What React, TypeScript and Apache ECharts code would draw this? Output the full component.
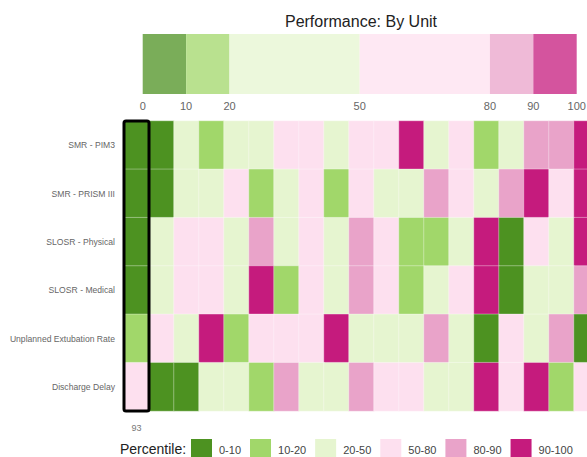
import React, { useEffect, useRef } from "react";
import * as echarts from "echarts";

const chartTitle = "Performance: By Unit";
const legendTitle = "Percentile:";

const bandEdges = [0, 10, 20, 50, 80, 90, 100];
const bandLabels = ["0-10", "10-20", "20-50", "50-80", "80-90", "90-100"];
const bandColors = ["#4d9221", "#a1d76a", "#e6f5d0", "#fde0ef", "#e9a3c9", "#c51b7d"];
const scaleTicks = [0, 10, 20, 50, 80, 90, 100];

const metrics = [
  "SMR - PIM3",
  "SMR - PRISM III",
  "SLOSR - Physical",
  "SLOSR - Medical",
  "Unplanned Extubation Rate",
  "Discharge Delay",
];

const units = [
  "93", "U02", "U03", "U04", "U05", "U06", "U07", "U08", "U09", "U10",
  "U11", "U12", "U13", "U14", "U15", "U16", "U17", "U18", "U19",
];
const highlightedUnit = "93";

const smrPim3 = [4, 7, 35, 14, 42, 28, 63, 58, 31, 71, 55, 96, 38, 66, 17, 44, 84, 87, 93];
const smrPrism3 = [6, 3, 26, 39, 61, 12, 33, 74, 16, 57, 45, 29, 82, 68, 36, 86, 97, 52, 94];
const slosrPhysical = [5, 41, 59, 67, 37, 83, 24, 72, 47, 88, 64, 13, 18, 27, 92, 8, 76, 34, 98];
const slosrMedical = [2, 32, 69, 53, 43, 95, 15, 62, 25, 81, 77, 19, 46, 56, 91, 4, 22, 40, 85];
const unplannedExtubation = [18, 54, 36, 97, 11, 65, 73, 60, 93, 48, 30, 23, 87, 39, 7, 70, 44, 83, 3];
const dischargeDelay = [66, 9, 6, 28, 37, 14, 89, 42, 21, 84, 57, 78, 33, 46, 99, 62, 95, 12, 75];

const metricValues = [smrPim3, smrPrism3, slosrPhysical, slosrMedical, unplannedExtubation, dischargeDelay];

function fade(hex: string, a: number) {
  const n = parseInt(hex.slice(1), 16);
  const r = (n >> 16) & 255, g = (n >> 8) & 255, b = n & 255;
  const m = (c: number) => Math.round(c * a + 255 * (1 - a));
  return `rgb(${m(r)},${m(g)},${m(b)})`;
}

export default function App() {
  const ref = useRef<HTMLDivElement>(null);

  useEffect(() => {
    if (!ref.current) return;
    const chart = echarts.init(ref.current, null, { renderer: "svg" });
    const font = "'Liberation Sans', Arial, Helvetica, sans-serif";

    const heatData: number[][] = [];
    metricValues.forEach((row, y) => row.forEach((v, x) => heatData.push([x, y, v])));

    const bandSeries = bandLabels.map((lab, i) => ({
      type: "bar",
      name: lab,
      stack: "scale",
      xAxisIndex: 0,
      yAxisIndex: 0,
      barWidth: "100%",
      silent: true,
      itemStyle: { color: fade(bandColors[i], 0.75) },
      data: [bandEdges[i + 1] - bandEdges[i]],
    }));

    const option: any = {
      animation: false,
      textStyle: { fontFamily: font },
      title: [
        {
          text: chartTitle,
          left: 356,
          top: 8,
          textAlign: "center",
          textStyle: { fontSize: 16, fontWeight: "normal", color: "#222", fontFamily: font },
        },
        {
          text: legendTitle,
          left: 120,
          top: 442,
          padding: 0,
          textStyle: { fontSize: 14, fontWeight: "normal", color: "#222", fontFamily: font },
        },
      ],
      grid: [
        { left: 142.7, top: 34, width: 434, height: 60, containLabel: false, outerBoundsMode: "none" },
        { left: 124, top: 121, width: 475, height: 290, containLabel: false, outerBoundsMode: "none" },
      ],
      xAxis: [
        {
          type: "value",
          gridIndex: 0,
          min: 0,
          max: 100,
          interval: 10,
          axisLine: { show: false },
          axisTick: { show: false },
          splitLine: { show: false },
          axisLabel: {
            margin: 6,
            fontSize: 11,
            color: "#666",
            formatter: (v: number) => (scaleTicks.includes(v) ? String(v) : ""),
          },
        },
        {
          type: "category",
          gridIndex: 1,
          data: units,
          axisLine: { show: false },
          axisTick: { show: false },
          splitLine: { show: false },
          axisLabel: {
            margin: 12,
            fontSize: 9,
            color: "#777",
            interval: 0,
            formatter: (v: string) => (v === highlightedUnit ? v : ""),
          },
        },
      ],
      yAxis: [
        { type: "category", gridIndex: 0, data: ["scale"], show: false },
        {
          type: "category",
          gridIndex: 1,
          data: metrics,
          inverse: true,
          axisLine: { show: false },
          axisTick: { show: false },
          splitLine: { show: false },
          axisLabel: { margin: 9, fontSize: 8.6, color: "#666" },
        },
      ],
      visualMap: {
        type: "piecewise",
        seriesIndex: bandLabels.length,
        orient: "horizontal",
        left: 191,
        top: 439,
        padding: 0,
        itemWidth: 21,
        itemHeight: 21,
        itemGap: 9,
        textGap: 7,
        itemSymbol: "rect",
        selectedMode: false,
        textStyle: { fontSize: 11, color: "#444", fontFamily: font },
        pieces: bandLabels.map((lab, i) => ({
          min: bandEdges[i],
          max: bandEdges[i + 1],
          label: lab,
          color: bandColors[i],
        })),
      },
      series: [
        ...bandSeries,
        {
          type: "heatmap",
          xAxisIndex: 1,
          yAxisIndex: 1,
          data: heatData,
          itemStyle: { borderColor: "rgba(255,255,255,0.35)", borderWidth: 1 },
          label: { show: false },
          emphasis: { disabled: true },
        },
        {
          type: "custom",
          xAxisIndex: 1,
          yAxisIndex: 1,
          silent: true,
          z: 10,
          data: [[units.indexOf(highlightedUnit)]],
          renderItem: (params: any, api: any) => {
            const col = api.value(0);
            const top = api.coord([col, 0]);
            const bottom = api.coord([col, metrics.length - 1]);
            const size = api.size([1, 1]);
            return {
              type: "rect",
              shape: {
                x: top[0] - size[0] / 2,
                y: top[1] - size[1] / 2,
                width: size[0],
                height: bottom[1] - top[1] + size[1],
                r: 2,
              },
              style: { fill: "none", stroke: "#000", lineWidth: 3 },
            };
          },
        },
      ],
    };

    chart.setOption(option);
    return () => chart.dispose();
  }, []);

  return (
    <div
      ref={ref}
      style={{ position: "absolute", left: 0, top: 0, width: 587, height: 457, background: "#fff" }}
    />
  );
}
